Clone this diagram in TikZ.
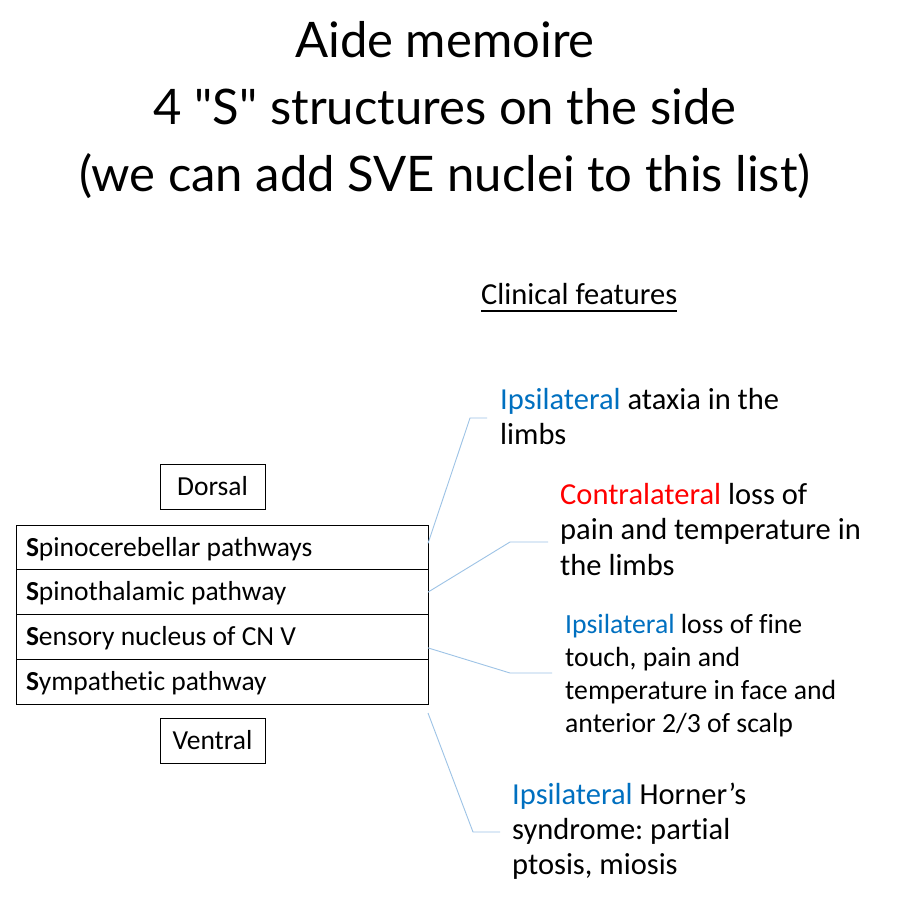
\documentclass[tikz,border=0pt]{standalone}
\usepackage{fontspec}
\setmainfont{Carlito}[Ligatures={NoCommon}]
\newfontfamily\titlefont{Lato}
\definecolor{ipsi}{HTML}{0070C0}
\definecolor{contra}{HTML}{FF0000}
\definecolor{conn}{HTML}{9DC3E6}
\frenchspacing
\begin{document}
\frenchspacing
\begin{tikzpicture}[x=1pt,y=-1pt,
  rowbox/.style={draw, line width=1pt, minimum width=412pt, minimum height=44.75pt,
    text width=392pt, inner xsep=10pt, inner ysep=0pt, outer sep=0pt, align=flush left,
    text height=17.5pt, text depth=0pt, font=\fontsize{27.5}{32}\selectfont, anchor=north west},
  sidebox/.style={draw, line width=1pt, minimum width=105pt, minimum height=45pt,
    inner sep=0pt, outer sep=0pt, text height=17.5pt, text depth=0pt, font=\fontsize{27.5}{32}\selectfont},
  titletxt/.style={anchor=base, inner sep=0pt, font=\titlefont\fontsize{49}{58}\selectfont},
  feat/.style={anchor=base west, inner sep=0pt},
  connline/.style={draw=conn, line width=0.9pt}
]
\useasboundingbox[fill=white] (0,0) rectangle (900,908);

% title
\node[titletxt] (t1) at (445,57) {Aide memoire};
\node[titletxt] (t2) at (445,124) {4 "S" structures on the side};
\node[titletxt] (t3) at (445,191) {(we can add SVE nuclei to this list)};

% heading
\node[feat, font=\fontsize{30.5}{36}\selectfont] (cf) at (481,304) {Clinical features};
\draw[line width=1.8pt] ([yshift=-7pt]cf.base west) -- ([yshift=-7pt]cf.base east);

% table
\node[sidebox] (dorsal) at (212.5,486.5) {Dorsal};
\node[rowbox] (r1) at (16,525) {\textbf{S}pinocerebellar pathways};
\node[rowbox] (r2) at (16,569.75) {\textbf{S}pinothalamic pathway};
\node[rowbox] (r3) at (16,614.5) {\textbf{S}ensory nucleus of CN V};
\node[rowbox] (r4) at (16,659.25) {\textbf{S}ympathetic pathway};
\node[sidebox] (ventral) at (212.5,741) {Ventral};

% features
\node[feat] (f1) at (500,409) {\parbox[t]{390pt}{\raggedright\fontsize{30.5}{35}\selectfont
  \textcolor{ipsi}{Ipsilateral} ataxia in the\\limbs}};
\node[feat] (f2) at (560,504) {\parbox[t]{340pt}{\raggedright\fontsize{30.5}{35.5}\selectfont
  \textcolor{contra}{Contralateral} loss of\\pain and temperature in\\the limbs}};
\node[feat] (f3) at (565,633) {\parbox[t]{335pt}{\raggedright\fontsize{27.7}{33.3}\selectfont
  \textcolor{ipsi}{Ipsilateral} loss of fine\\touch, pain and\\temperature in face and\\anterior 2/3 of scalp}};
\node[feat] (f4) at (512,804) {\parbox[t]{385pt}{\raggedright\fontsize{30.5}{35}\selectfont
  \textcolor{ipsi}{Ipsilateral} Horner’s\\syndrome: partial\\ptosis, miosis}};

% connectors
\coordinate (b1) at (470,418); \coordinate (e1) at (487,418);
\coordinate (b2) at (510,542); \coordinate (e2) at (548,542);
\coordinate (b3) at (510,673); \coordinate (e3) at (552,673);
\coordinate (b4) at (473,832); \coordinate (e4) at (500,832);
\draw[connline] ([yshift=4pt]r1.east) -- (b1) -- (e1);
\draw[connline] (r2.east) -- (b2) -- (e2);
\draw[connline] ([yshift=-11pt]r3.east) -- (b3) -- (e3);
\draw[connline] ([yshift=-9pt]r4.south east) -- (b4) -- (e4);
\end{tikzpicture}
\end{document}
